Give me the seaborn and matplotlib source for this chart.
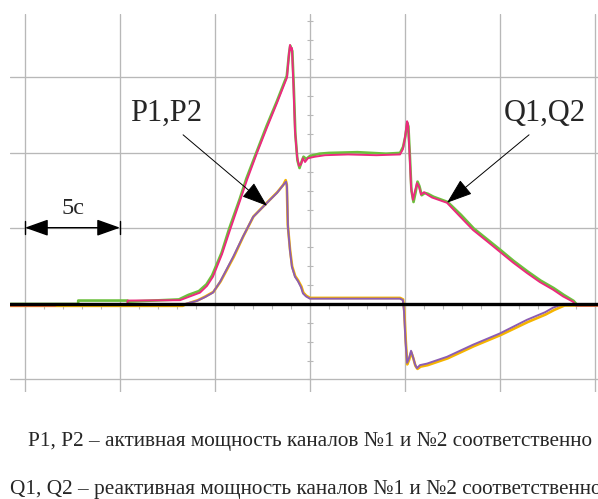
import matplotlib
matplotlib.use("Agg")
import matplotlib.pyplot as plt
import seaborn as sns
from matplotlib.ticker import MultipleLocator

# time axis in seconds, values in vertical grid divisions
q2_t = [-0.79, 1.6, 1.6, 5.4, 5.4, 8.16, 8.68, 9.21, 9.58, 9.89, 10.37, 10.79, 11.32, 11.68, 12.21, 12.74,
        13.26, 13.79, 13.89, 13.95, 14.0, 14.05, 14.13, 14.21, 14.32, 14.42, 14.53, 14.63, 14.74, 14.89,
        15.26, 15.79, 17.0, 18.5, 19.74, 19.89, 20.0, 20.11, 20.16, 20.24, 20.32, 20.42, 20.53, 20.63,
        20.74, 20.84, 21.0, 21.16, 21.42, 22.21, 22.89, 23.58, 24.32, 25.0, 25.68, 26.42, 27.1, 27.79,
        28.32, 28.84, 29.0, 30.16]
q2_v = [-0.02, -0.02, 0.0, 0.0, 0.045, 0.05, 0.10, 0.15, 0.24, 0.36, 0.66, 0.98, 1.37, 1.64, 2.0, 2.34,
        2.66, 3.0, 3.3, 3.43, 3.36, 3.39, 2.9, 2.3, 1.95, 1.83, 1.85, 1.93, 1.88, 1.93,
        1.95, 1.97, 1.98, 1.97, 1.98, 2.05, 2.2, 2.42, 2.38, 2.0, 1.55, 1.38, 1.5, 1.6,
        1.55, 1.45, 1.48, 1.45, 1.41, 1.34, 1.16, 0.98, 0.83, 0.69, 0.55, 0.41, 0.29, 0.19,
        0.10, 0.03, -0.02, -0.02]

q1_t = [-0.79, 2.8, 2.8, 5.4, 5.4, 8.1, 8.6, 9.15, 9.55, 9.85, 10.35, 10.75, 11.3, 11.65, 12.2, 12.72,
        13.25, 13.78, 13.9, 13.96, 14.02, 14.07, 14.15, 14.23, 14.34, 14.45, 14.55, 14.66, 14.8, 15.0,
        15.5, 16.0, 17.5, 19.0, 19.74, 19.9, 20.02, 20.12, 20.18, 20.26, 20.34, 20.45, 20.56, 20.66,
        20.76, 20.88, 21.05, 21.2, 21.5, 22.25, 22.95, 23.62, 24.36, 25.05, 25.72, 26.46, 27.14, 27.83,
        28.36, 28.88, 29.05, 30.16]
q1_v = [0.0, 0.0, 0.045, 0.045, 0.03, 0.06, 0.12, 0.17, 0.26, 0.38, 0.68, 1.0, 1.39, 1.66, 2.02, 2.36,
        2.68, 3.02, 3.32, 3.42, 3.38, 3.35, 2.85, 2.25, 1.9, 1.8, 1.88, 1.95, 1.92, 1.96,
        1.99, 2.0, 2.01, 1.99, 2.0, 2.08, 2.22, 2.4, 2.35, 1.95, 1.5, 1.35, 1.48, 1.62,
        1.56, 1.44, 1.47, 1.46, 1.42, 1.35, 1.18, 1.0, 0.85, 0.71, 0.57, 0.43, 0.31, 0.21,
        0.12, 0.04, -0.01, -0.01]

p2_t = [-0.79, 8.42, 9.05, 9.47, 9.89, 10.26, 10.95, 11.47, 12.0, 12.74, 13.26, 13.58, 13.74, 13.79,
        13.84, 13.95, 14.05, 14.21, 14.37, 14.53, 14.63, 14.79, 15.0, 17.0, 19.74, 19.89, 19.95, 20.03,
        20.11, 20.21, 20.32, 20.42, 20.53, 20.63, 20.79, 21.16, 22.21, 23.58, 25.0, 26.42, 27.37, 27.79,
        28.32, 30.16]
p2_v = [0.0, 0.0, 0.04, 0.09, 0.15, 0.29, 0.62, 0.89, 1.15, 1.34, 1.47, 1.57, 1.62, 1.55,
        1.02, 0.70, 0.49, 0.36, 0.30, 0.22, 0.14, 0.10, 0.07, 0.07, 0.07, 0.05, -0.10, -0.50,
        -0.78, -0.72, -0.62, -0.70, -0.80, -0.85, -0.81, -0.79, -0.70, -0.54, -0.39, -0.21, -0.11, -0.05,
        0.0, 0.0]

p1_t = [-0.79, 8.3, 8.5, 9.1, 9.5, 9.92, 10.3, 11.0, 11.5, 12.03, 12.77, 13.28, 13.6, 13.72, 13.78,
        13.83, 13.95, 14.06, 14.22, 14.38, 14.55, 14.65, 14.8, 15.0, 17.0, 19.74, 19.9, 19.96, 20.04,
        20.12, 20.22, 20.33, 20.44, 20.55, 20.66, 20.82, 21.2, 22.25, 23.62, 25.05, 26.46, 27.4, 27.85,
        28.4, 30.16]
p1_v = [-0.025, -0.025, 0.0, 0.05, 0.1, 0.16, 0.30, 0.63, 0.90, 1.16, 1.35, 1.48, 1.58, 1.64, 1.58,
        1.05, 0.72, 0.5, 0.37, 0.31, 0.23, 0.15, 0.11, 0.08, 0.08, 0.08, 0.06, -0.08, -0.48,
        -0.8, -0.74, -0.64, -0.72, -0.82, -0.86, -0.83, -0.81, -0.72, -0.56, -0.41, -0.24, -0.14, -0.08,
        -0.02, -0.02]

label_p = "P1,P2"
label_q = "Q1,Q2"
label_scale = "5c"
caption_1 = "P1, P2 – активная мощность каналов №1 и №2 соответственно"
caption_2 = "Q1, Q2 – реактивная мощность каналов №1 и №2 соответственно"

sns.set_style("white")
serif = ["Liberation Serif", "DejaVu Serif"]

fig = plt.figure(figsize=(5.98, 4.99), dpi=100)
ax = fig.add_axes([10 / 598, 107 / 499, 588 / 598, 378 / 499])

grid_c = "#b8b8b8"
ax.set_xlim(-0.79, 30.16)
ax.set_ylim(-1.166, 3.84)
ax.xaxis.set_major_locator(MultipleLocator(5))
ax.xaxis.set_minor_locator(MultipleLocator(1))
ax.yaxis.set_major_locator(MultipleLocator(1))
ax.yaxis.set_minor_locator(MultipleLocator(0.25))
ax.grid(True, which="major", color=grid_c, lw=0.95)
ax.set_axisbelow(True)

for s in ["top", "right"]:
    ax.spines[s].set_visible(False)
ax.spines["bottom"].set_position(("data", 0))
ax.spines["bottom"].set_color("none")
ax.spines["left"].set_position(("data", 15))
ax.spines["left"].set_color("none")
ax.tick_params(axis="x", which="both", direction="out", length=3.6, width=0.8, color=grid_c,
               labelbottom=False, bottom=True)
ax.tick_params(axis="y", which="both", direction="inout", length=4.5, width=0.8, color=grid_c,
               labelleft=False, left=True)

sns.lineplot(x=q1_t, y=q1_v, estimator=None, sort=False, color="#6cbf3c", lw=1.9, ax=ax, zorder=3)
sns.lineplot(x=q2_t, y=q2_v, estimator=None, sort=False, color="#ec2a7e", lw=1.4, ax=ax, zorder=4)
sns.lineplot(x=p1_t, y=p1_v, estimator=None, sort=False, color="#f5b400", lw=1.9, ax=ax, zorder=3)
sns.lineplot(x=p2_t, y=p2_v, estimator=None, sort=False, color="#8c5db2", lw=1.4, ax=ax, zorder=4)

ax.axhline(0, color="black", lw=2.4, zorder=6)

arrow_kw = dict(arrowstyle="-|>,head_length=0.9,head_width=0.32", color="black", lw=0.7,
                mutation_scale=18, shrinkA=0, shrinkB=0)
ax.annotate("", xy=(12.74, 1.30), xytext=(8.32, 2.24), arrowprops=arrow_kw, zorder=7)
ax.annotate("", xy=(22.21, 1.34), xytext=(26.53, 2.24), arrowprops=arrow_kw, zorder=7)
ax.text(7.45, 2.52, label_p, family=serif, fontsize=22, ha="center", va="center", zorder=7)
ax.text(27.37, 2.52, label_q, family=serif, fontsize=22, ha="center", va="center", zorder=7)

# scale marker: one major division = 5 s
ax.annotate("", xy=(0, 1.01), xytext=(5, 1.01),
            arrowprops=dict(arrowstyle="<|-|>,head_length=0.9,head_width=0.32", color="black",
                            lw=1.0, mutation_scale=16, shrinkA=0, shrinkB=0), zorder=7)
for xb in (0, 5):
    ax.plot([xb, xb], [0.92, 1.10], color="black", lw=1.0, zorder=7)
ax.text(2.5, 1.27, label_scale, family=serif, fontsize=17.5, ha="center", va="center", zorder=7)

fig.text(28.3 / 598, 53 / 499, caption_1, family=serif, fontsize=15.3, ha="left", va="baseline")
fig.text(10.5 / 598, 5 / 499, caption_2, family=serif, fontsize=15.3, ha="left", va="baseline")

fig.savefig("out.png", dpi=100)
